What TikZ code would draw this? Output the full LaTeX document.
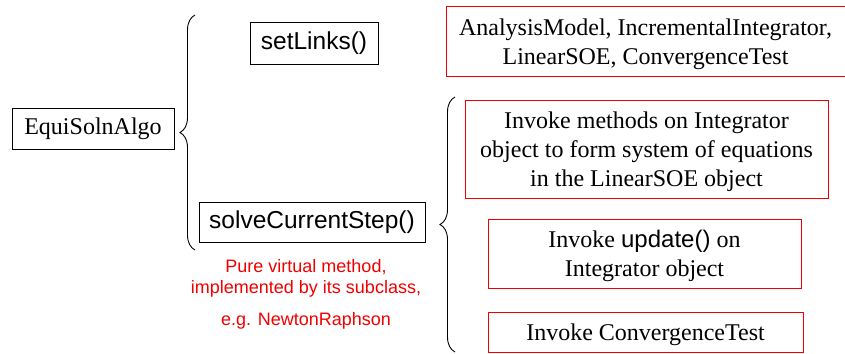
\documentclass[tikz,border=0pt]{standalone}
\usepackage{fontspec}
\setmainfont{Liberation Serif}
\setsansfont{Liberation Sans}
\usetikzlibrary{decorations.pathreplacing}
\definecolor{pptred}{RGB}{240,0,0}
\newcommand{\topstrut}{\rule{0pt}{23pt}}
\begin{document}
\begin{tikzpicture}[x=1pt,y=-1pt,
  blackbox/.style={draw=black, line width=1pt, inner sep=0pt, align=center},
  redbox/.style={draw=pptred, line width=1pt, inner sep=0pt, align=center, font=\fontsize{24}{29}\selectfont},
  sanslabel/.style={font=\sffamily\fontsize{24.5}{28}\selectfont},
  seriflabel/.style={font=\fontsize{24}{28}\selectfont},
  rednote/.style={text=pptred, font=\sffamily\fontsize{18}{21}\selectfont, inner sep=0pt},
  bracestyle/.style={decorate, decoration={brace, amplitude=15pt}, line width=0.9pt}]
\useasboundingbox (0,0) rectangle (845,353);

\node[blackbox, seriflabel, minimum width=162pt, minimum height=41pt] (algo) at (93,128.5) {EquiSolnAlgo};
\node[blackbox, sanslabel, minimum width=128pt, minimum height=41pt] (links) at (314,43.5) {setLinks()};
\node[blackbox, sanslabel, minimum width=226pt, minimum height=40pt] (solve) at (312,222) {solveCurrentStep()};

\node[rednote] (n1) at (306,267) {Pure virtual method,};
\node[rednote] (n2) at (306,288.5) {implemented by its subclass,};
\node[rednote] (n3) at (306,321) {e.g. NewtonRaphson};

\node[redbox, minimum width=399pt, minimum height=69pt] (objs) at (645.5,41.5) {\topstrut AnalysisModel, IncrementalIntegrator,\\LinearSOE, ConvergenceTest};
\node[redbox, minimum width=363pt, minimum height=98pt] (form) at (646.5,149) {\topstrut Invoke methods on Integrator\\object to form system of equations\\in the LinearSOE object};
\node[redbox, minimum width=313pt, minimum height=69pt] (upd) at (644.5,253.5) {\topstrut Invoke {\sffamily update()} on\\Integrator object};
\node[redbox, minimum width=315pt, minimum height=40pt] (conv) at (645.5,332) {\topstrut Invoke ConvergenceTest};

\coordinate (b1top) at (195,15);
\coordinate (b1bot) at (195,250);
\coordinate (b2top) at (455,97);
\coordinate (b2bot) at (455,352);
\draw[bracestyle] (b1bot) -- (b1top);
\draw[bracestyle] (b2bot) -- (b2top);
\end{tikzpicture}
\end{document}
